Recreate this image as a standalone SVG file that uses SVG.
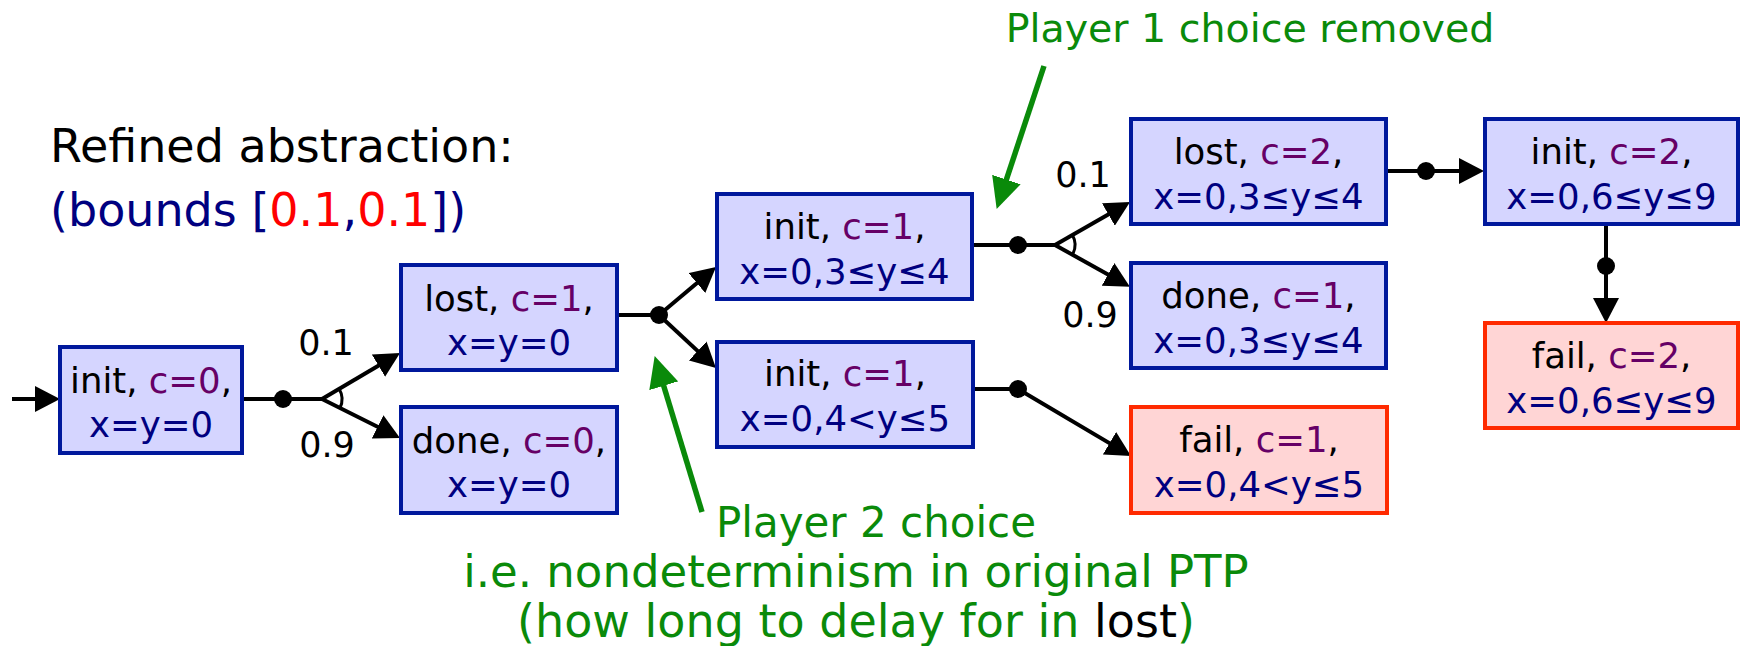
<svg xmlns="http://www.w3.org/2000/svg" width="1742" height="646" viewBox="0 0 1742 646">
<defs>
<style>
.box{fill:#d5d5ff;stroke:#00189c;stroke-width:4}
.fail{fill:#ffd5d5;stroke:#ff2a00;stroke-width:4}
.t{font-family:"DejaVu Sans",sans-serif;font-size:35.5px;text-anchor:middle;fill:#000}
.c{fill:#660066}
.v{fill:#000080}
.e{stroke:#000;stroke-width:4;fill:none}
.arc{stroke:#000;stroke-width:3;fill:none}
.g{stroke:#0a8a0a;stroke-width:5.5;fill:none}
.gt{font-family:"DejaVu Sans",sans-serif;font-size:45px;fill:#0a8a0a;text-anchor:middle}
.title{font-family:"DejaVu Sans",sans-serif;font-size:46px}
.p{font-family:"DejaVu Sans",sans-serif;font-size:35px;text-anchor:middle;fill:#000}
</style>
<marker id="ah" markerUnits="userSpaceOnUse" markerWidth="26" markerHeight="26" refX="20" refY="13" orient="auto">
<path d="M0,0 L25,13 L0,26 z" fill="#000"/>
</marker>
<marker id="gh" markerUnits="userSpaceOnUse" markerWidth="32" markerHeight="30" refX="22" refY="15" orient="auto">
<path d="M0,0 L31,15 L0,30 z" fill="#0a8a0a"/>
</marker>
</defs>

<g id="title">
<text class="title" x="50" y="162" fill="#000">Refined abstraction:</text>
<text class="title" x="50" y="226" fill="#000080">(bounds [<tspan fill="#ff0000">0.1</tspan>,<tspan fill="#ff0000">0.1</tspan>])</text>
</g>

<g id="connectors">
<line class="e" x1="12" y1="399" x2="55" y2="399" marker-end="url(#ah)"/>
<line class="e" x1="242" y1="399" x2="322" y2="399"/>
<circle cx="283" cy="399" r="9" fill="#000"/>
<line class="e" x1="322" y1="399" x2="395.7" y2="355.5" marker-end="url(#ah)"/>
<line class="e" x1="322" y1="399" x2="395.5" y2="435.8" marker-end="url(#ah)"/>
<path class="arc" d="M339.2,388.9 A20,20 0 0 1 339.9,408"/>

<line class="e" x1="617" y1="315" x2="659" y2="315"/>
<circle cx="659" cy="315" r="9" fill="#000"/>
<line class="e" x1="659" y1="315" x2="712.2" y2="270.2" marker-end="url(#ah)"/>
<line class="e" x1="659" y1="315" x2="712.3" y2="364.6" marker-end="url(#ah)"/>

<line class="e" x1="972" y1="245" x2="1055" y2="245"/>
<circle cx="1018" cy="245" r="9" fill="#000"/>
<line class="e" x1="1055" y1="245" x2="1125.7" y2="204.5" marker-end="url(#ah)"/>
<line class="e" x1="1055" y1="245" x2="1125.5" y2="284.2" marker-end="url(#ah)"/>
<path class="arc" d="M1072.4,235.1 A20,20 0 0 1 1072.9,253.9"/>

<line class="e" x1="973" y1="389" x2="1018" y2="389"/>
<circle cx="1018" cy="389" r="9" fill="#000"/>
<line class="e" x1="1018" y1="389" x2="1126.7" y2="453.4" marker-end="url(#ah)"/>

<line class="e" x1="1386" y1="171" x2="1479" y2="171" marker-end="url(#ah)"/>
<circle cx="1426" cy="171" r="9" fill="#000"/>

<line class="e" x1="1606" y1="224" x2="1606" y2="318" marker-end="url(#ah)"/>
<circle cx="1606" cy="266" r="9" fill="#000"/>

<text class="p" x="326" y="355">0.1</text>
<text class="p" x="327" y="457">0.9</text>
<text class="p" x="1083" y="187">0.1</text>
<text class="p" x="1090" y="327">0.9</text>
</g>

<g id="n1">
<rect class="box" x="60" y="347" width="182" height="106"/>
<text class="t" x="151" y="393">init, <tspan class="c">c=0</tspan>,</text>
<text class="t v" x="151" y="437">x=y=0</text>
</g>
<g id="n2">
<rect class="box" x="401" y="265" width="216" height="105"/>
<text class="t" x="509" y="311">lost, <tspan class="c">c=1</tspan>,</text>
<text class="t v" x="509" y="355">x=y=0</text>
</g>
<g id="n3">
<rect class="box" x="401" y="407" width="216" height="106"/>
<text class="t" x="509" y="453">done, <tspan class="c">c=0</tspan>,</text>
<text class="t v" x="509" y="497">x=y=0</text>
</g>
<g id="n4">
<rect class="box" x="717" y="194" width="255" height="105"/>
<text class="t" x="844.5" y="239">init, <tspan class="c">c=1</tspan>,</text>
<text class="t v" x="844.5" y="284">x=0,3≤y≤4</text>
</g>
<g id="n5">
<rect class="box" x="717" y="342" width="256" height="105"/>
<text class="t" x="845" y="386">init, <tspan class="c">c=1</tspan>,</text>
<text class="t v" x="845" y="431">x=0,4&lt;y≤5</text>
</g>
<g id="n6">
<rect class="box" x="1131" y="119" width="255" height="105"/>
<text class="t" x="1258.5" y="164">lost, <tspan class="c">c=2</tspan>,</text>
<text class="t v" x="1258.5" y="209">x=0,3≤y≤4</text>
</g>
<g id="n7">
<rect class="box" x="1131" y="263" width="255" height="105"/>
<text class="t" x="1258.5" y="308">done, <tspan class="c">c=1</tspan>,</text>
<text class="t v" x="1258.5" y="353">x=0,3≤y≤4</text>
</g>
<g id="n8">
<rect class="fail" x="1131" y="407" width="256" height="106"/>
<text class="t" x="1259" y="452">fail, <tspan class="c">c=1</tspan>,</text>
<text class="t v" x="1259" y="497">x=0,4&lt;y≤5</text>
</g>
<g id="n9">
<rect class="box" x="1485" y="119" width="253" height="105"/>
<text class="t" x="1611.5" y="164">init, <tspan class="c">c=2</tspan>,</text>
<text class="t v" x="1611.5" y="209">x=0,6≤y≤9</text>
</g>
<g id="n10">
<rect class="fail" x="1485" y="323" width="253" height="105"/>
<text class="t" x="1611.5" y="368">fail, <tspan class="c">c=2</tspan>,</text>
<text class="t v" x="1611.5" y="413">x=0,6≤y≤9</text>
</g>

<g id="annotations">
<line class="g" x1="1044" y1="66" x2="999.5" y2="200.4" marker-end="url(#gh)"/>
<text class="gt" x="1250" y="42" style="font-size:39.5px">Player 1 choice removed</text>
<line class="g" x1="702" y1="512" x2="657.3" y2="364.7" marker-end="url(#gh)"/>
<text class="gt" x="876" y="537" style="font-size:42px">Player 2 choice</text>
<text class="gt" x="856" y="587">i.e. nondeterminism in original PTP</text>
<text class="gt" x="856" y="637" style="font-size:46px">(how long to delay for in <tspan fill="#000">lost</tspan>)</text>
</g>
</svg>
